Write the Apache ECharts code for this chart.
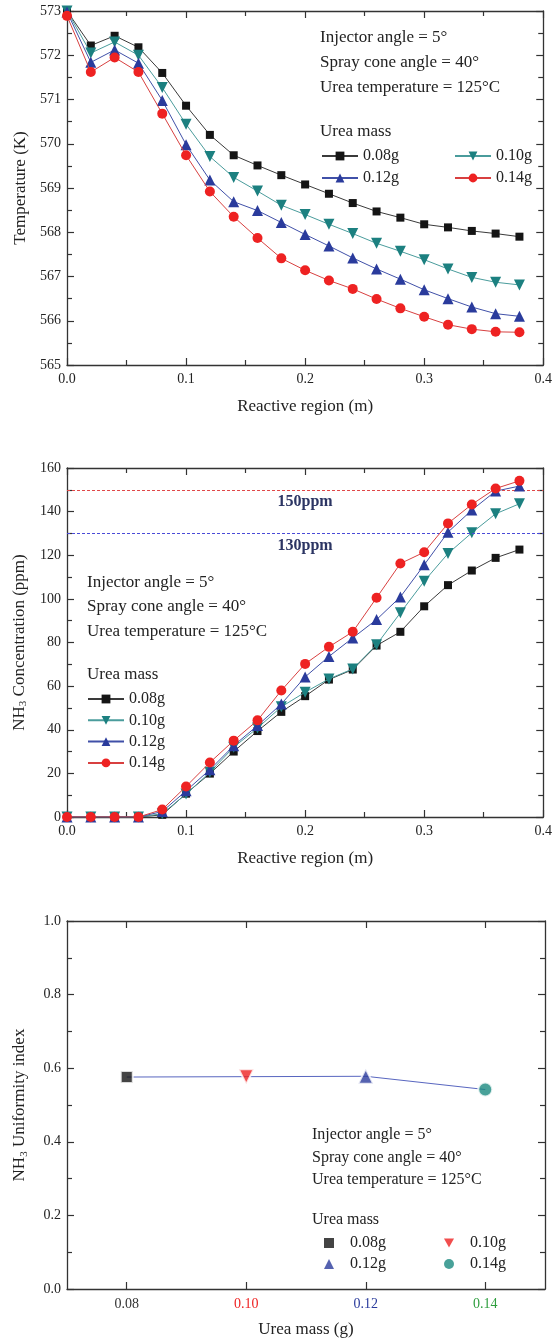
<!DOCTYPE html>
<html><head><meta charset="utf-8">
<script src="https://cdn.jsdelivr.net/npm/echarts@6/dist/echarts.min.js"></script>
<style>html,body{margin:0;padding:0;background:#fff}#c{width:555px;height:1341px}</style>
</head><body><div id="c"></div>
<script>
// ---------- data ----------
const xPos = [0,0.02,0.04,0.06,0.08,0.10,0.12,0.14,0.16,0.18,0.20,0.22,0.24,0.26,0.28,0.30,0.32,0.34,0.36,0.38];
const massNames = ['0.08g','0.10g','0.12g','0.14g'];
const temp08 = [573.0,572.22,572.44,572.18,571.6,570.86,570.2,569.74,569.51,569.29,569.08,568.87,568.66,568.47,568.33,568.18,568.11,568.03,567.97,567.9];
const temp10 = [573.0,572.05,572.3,572.0,571.27,570.44,569.71,569.24,568.93,568.61,568.4,568.18,567.97,567.75,567.57,567.38,567.17,566.98,566.87,566.81];
const temp12 = [572.98,571.84,572.12,571.82,570.98,569.98,569.18,568.69,568.49,568.22,567.95,567.69,567.42,567.17,566.94,566.7,566.5,566.31,566.16,566.1];
const temp14 = [572.89,571.62,571.95,571.62,570.68,569.74,568.92,568.35,567.87,567.41,567.14,566.91,566.72,566.49,566.28,566.09,565.91,565.81,565.75,565.74];
const nh08 = [0,0,0,0,1,10.7,19.9,30,39.4,48.2,55.4,63,67.6,78.6,84.9,96.6,106.3,113,118.8,122.6];
const nh10 = [0,0,0,0,1.5,10.5,20.5,32,40.8,50.5,57.2,63.3,67.9,79,93.6,108.1,120.8,130.3,139,143.6];
const nh12 = [0,0,0,0,2.5,12,21.7,32.7,41.9,51.8,64.2,73.6,82.1,90.5,100.9,115.6,130.6,140.7,149.4,151.7];
const nh14 = [0,0,0,0,3.4,14,25,35,44.3,58,70.2,78,84.9,100.5,116.2,121.4,134.6,143.3,150.6,154.1];
const thresholds = [150,130];
const thresholdLabels = ['150ppm','130ppm'];
const masses = [0.08,0.10,0.12,0.14];
const uniformity = [0.576,0.577,0.578,0.542];
const massLabels = ['0.08','0.10','0.12','0.14'];
const annot = ['Injector angle = 5°','Spray cone angle = 40°','Urea temperature = 125°C','Urea mass'];

// ---------- styles ----------
const FF = "'Liberation Serif','Times New Roman',serif";
const AX = '#333';
const sty = [
  {symbol:'rect', rot:0, size:8, mcol:'#151515', lcol:'#3a3a3a'},
  {symbol:'triangle', rot:180, size:11, mcol:'#1c8080', lcol:'#4a9c9c'},
  {symbol:'triangle', rot:0, size:11, mcol:'#2a3b9c', lcol:'#4050a8'},
  {symbol:'circle', rot:0, size:10, mcol:'#ee2222', lcol:'#d84040'}
];
const uniCols = ['#151515','#ee2222','#2a3b9c','#1a8a80'];
const labCols = ['#333333','#ee2222','#2a3b9c','#2e9e3e'];

const grids = [
  {left:67, right:10, top:11, height:354},
  {left:67, right:10, top:468, height:349},
  {left:67, right:10, top:921, height:368}
];

function xAx(g, opts, top){
  return Object.assign({
    type:'value', gridIndex:g, position: top?'top':'bottom',
    axisLine:{show:true, onZero:false, lineStyle:{color:AX, width:1.3}},
    axisTick:{show:true, inside:true, length:7, lineStyle:{color:AX, width:1.2}},
    minorTick:{show:true, splitNumber:2, length:5, lineStyle:{color:AX, width:1.2}},
    splitLine:{show:false},
    axisLabel:{show:!top, margin:7, fontFamily:FF, fontSize:14, color:'#222', formatter:v=>v.toFixed(1)}
  }, opts);
}
function yAx(g, opts, right){
  return Object.assign({
    type:'value', gridIndex:g, position: right?'right':'left',
    axisLine:{show:true, onZero:false, lineStyle:{color:AX, width:1.3}},
    axisTick:{show:true, inside:true, length:7, lineStyle:{color:AX, width:1.2}},
    minorTick:{show:true, splitNumber:2, length:5, lineStyle:{color:AX, width:1.2}},
    splitLine:{show:false},
    axisLabel:{show:!right, margin:6, fontFamily:FF, fontSize:14, color:'#222'}
  }, opts);
}
const nameStyle = {fontFamily:FF, fontSize:17, color:'#222'};
const subRich = {n:{fontFamily:FF, fontSize:17, color:'#222', lineHeight:20}, s:{fontFamily:FF, fontSize:11, color:'#222', verticalAlign:'bottom', lineHeight:11}};

const xAxes = [
  xAx(0,{min:0,max:0.4,interval:0.1,name:'Reactive region (m)',nameLocation:'middle',nameGap:33,nameTextStyle:nameStyle},false),
  xAx(0,{min:0,max:0.4,interval:0.1},true),
  xAx(1,{min:0,max:0.4,interval:0.1,name:'Reactive region (m)',nameLocation:'middle',nameGap:33,nameTextStyle:nameStyle},false),
  xAx(1,{min:0,max:0.4,interval:0.1},true),
  xAx(2,{min:0.07,max:0.15,name:'Urea mass (g)',nameLocation:'middle',nameGap:32,nameTextStyle:nameStyle,
    axisTick:{show:true,inside:true,length:7,customValues:masses,lineStyle:{color:AX,width:1.2}},
    minorTick:{show:false},
    axisLabel:{show:true,margin:8,fontFamily:FF,fontSize:14,customValues:masses,
      formatter:v=>{const i=Math.round((v-0.08)/0.02);return '{c'+i+'|'+massLabels[i]+'}';},
      rich:{c0:{color:labCols[0],fontFamily:FF,fontSize:14},c1:{color:labCols[1],fontFamily:FF,fontSize:14},c2:{color:labCols[2],fontFamily:FF,fontSize:14},c3:{color:labCols[3],fontFamily:FF,fontSize:14}}}},false),
  xAx(2,{min:0.07,max:0.15,
    axisTick:{show:true,inside:true,length:7,customValues:masses,lineStyle:{color:AX,width:1.2}},
    minorTick:{show:false}},true)
];
const yAxes = [
  yAx(0,{min:565,max:573,interval:1,name:'Temperature (K)',nameLocation:'middle',nameGap:37,nameTextStyle:nameStyle},false),
  yAx(0,{min:565,max:573,interval:1},true),
  yAx(1,{min:0,max:160,interval:20,name:'{n|NH}{s|3}{n| Concentration (ppm)}',nameLocation:'middle',nameGap:37,nameTextStyle:{rich:subRich}},false),
  yAx(1,{min:0,max:160,interval:20},true),
  yAx(2,{min:0,max:1,interval:0.2,name:'{n|NH}{s|3}{n| Uniformity index}',nameLocation:'middle',nameGap:37,nameTextStyle:{rich:subRich},
    axisLabel:{show:true,margin:6,fontFamily:FF,fontSize:14,color:'#222',formatter:v=>v.toFixed(1)}},false),
  yAx(2,{min:0,max:1,interval:0.2},true)
];

const series = [];
const tempArrs = [temp08,temp10,temp12,temp14];
const nhArrs = [nh08,nh10,nh12,nh14];
tempArrs.forEach((arr,k)=>{
  series.push({name:'T '+massNames[k], type:'line', xAxisIndex:0, yAxisIndex:0,
    data:xPos.map((x,i)=>[x,arr[i]]), symbol:sty[k].symbol, symbolRotate:sty[k].rot, symbolSize:sty[k].size,
    lineStyle:{color:sty[k].lcol,width:1}, itemStyle:{color:sty[k].mcol}, z:3+k, animation:false});
});
nhArrs.forEach((arr,k)=>{
  series.push({name:'N '+massNames[k], type:'line', xAxisIndex:2, yAxisIndex:2,
    data:xPos.map((x,i)=>[x,arr[i]]), symbol:sty[k].symbol, symbolRotate:sty[k].rot, symbolSize:sty[k].size,
    lineStyle:{color:sty[k].lcol,width:1}, itemStyle:{color:sty[k].mcol}, z:3+k, animation:false});
});
// threshold lines
series.push({name:'thr', type:'line', xAxisIndex:2, yAxisIndex:2, data:[], animation:false,
  markLine:{silent:true, symbol:['none','none'], animation:false,
    data: thresholds.map((t,i)=>({yAxis:t, lineStyle:{color: i===0?'#e04848':'#4a4ad8', type:[3,2], width:1},
      label:{show:true, position:'insideMiddleBottom', distance:4, formatter:thresholdLabels[i], fontFamily:FF, fontSize:16, fontWeight:'bold', color:'#2c3563'}}))}});
// uniformity connecting line
series.push({name:'U line', type:'line', xAxisIndex:4, yAxisIndex:4, data:masses.map((m,i)=>[m,uniformity[i]]),
  symbol:'none', lineStyle:{color:'#5866c0', width:1}, z:2, animation:false});
masses.forEach((m,k)=>{
  series.push({name:'U '+massNames[k], type:'scatter', xAxisIndex:4, yAxisIndex:4, data:[[m,uniformity[k]]],
    symbol:sty[k].symbol, symbolRotate:sty[k].rot, symbolSize:sty[k].size+4,
    itemStyle:{color:uniCols[k], borderColor:'#fff', borderWidth:2}, z:4, animation:false});
});

const legBase = {orient:'vertical', itemWidth:36, itemHeight:11, selectedMode:false,
  textStyle:{fontFamily:FF, fontSize:16, color:'#222', lineHeight:16}, formatter:n=>n.split(' ')[1]};
const legU = {itemWidth:10, itemHeight:10,
  textStyle:{fontFamily:FF, fontSize:16, color:'#222', lineHeight:16, padding:[0,0,0,11]}};
function uItem(k){
  const it = {name:'U '+massNames[k], itemStyle:{borderWidth:0}};
  if (sty[k].rot === 180) it.icon = 'path://M0,0L10,0L5,9Z';
  return it;
}
const legends = [
  Object.assign({}, legBase, {left:316, top:143, itemGap:6, data:['T 0.08g','T 0.12g']}),
  Object.assign({}, legBase, {left:449, top:143, itemGap:6, data:['T 0.10g','T 0.14g']}),
  Object.assign({}, legBase, {left:82, top:686, itemGap:5.3, data:['N 0.08g','N 0.10g','N 0.12g','N 0.14g']}),
  Object.assign({}, legBase, legU, {left:319, top:1230, itemGap:5, data:[uItem(0),uItem(2)]}),
  Object.assign({}, legBase, legU, {left:439, top:1230, itemGap:5, data:[uItem(1),uItem(3)]})
];

function txt(x,y,t,fs){return {type:'text', x:x, y:y, style:{text:t, fontFamily:FF, fontSize:fs, fill:'#222', verticalAlign:'middle', align:'left'}};}
const graphics = [
  txt(320,38,annot[0],17), txt(320,63,annot[1],17), txt(320,88,annot[2],17), txt(320,132,annot[3],17),
  txt(87,583,annot[0],17), txt(87,607,annot[1],17), txt(87,632,annot[2],17), txt(87,675,annot[3],17),
  txt(312,1135,annot[0],16), txt(312,1158,annot[1],16), txt(312,1180,annot[2],16), txt(312,1220,annot[3],16)
];

const chart = echarts.init(document.getElementById('c'), null, {renderer:'canvas'});
chart.setOption({
  animation:false, backgroundColor:'#fff',
  grid:grids, xAxis:xAxes, yAxis:yAxes, series:series, legend:legends, graphic:graphics
});
</script></body></html>
